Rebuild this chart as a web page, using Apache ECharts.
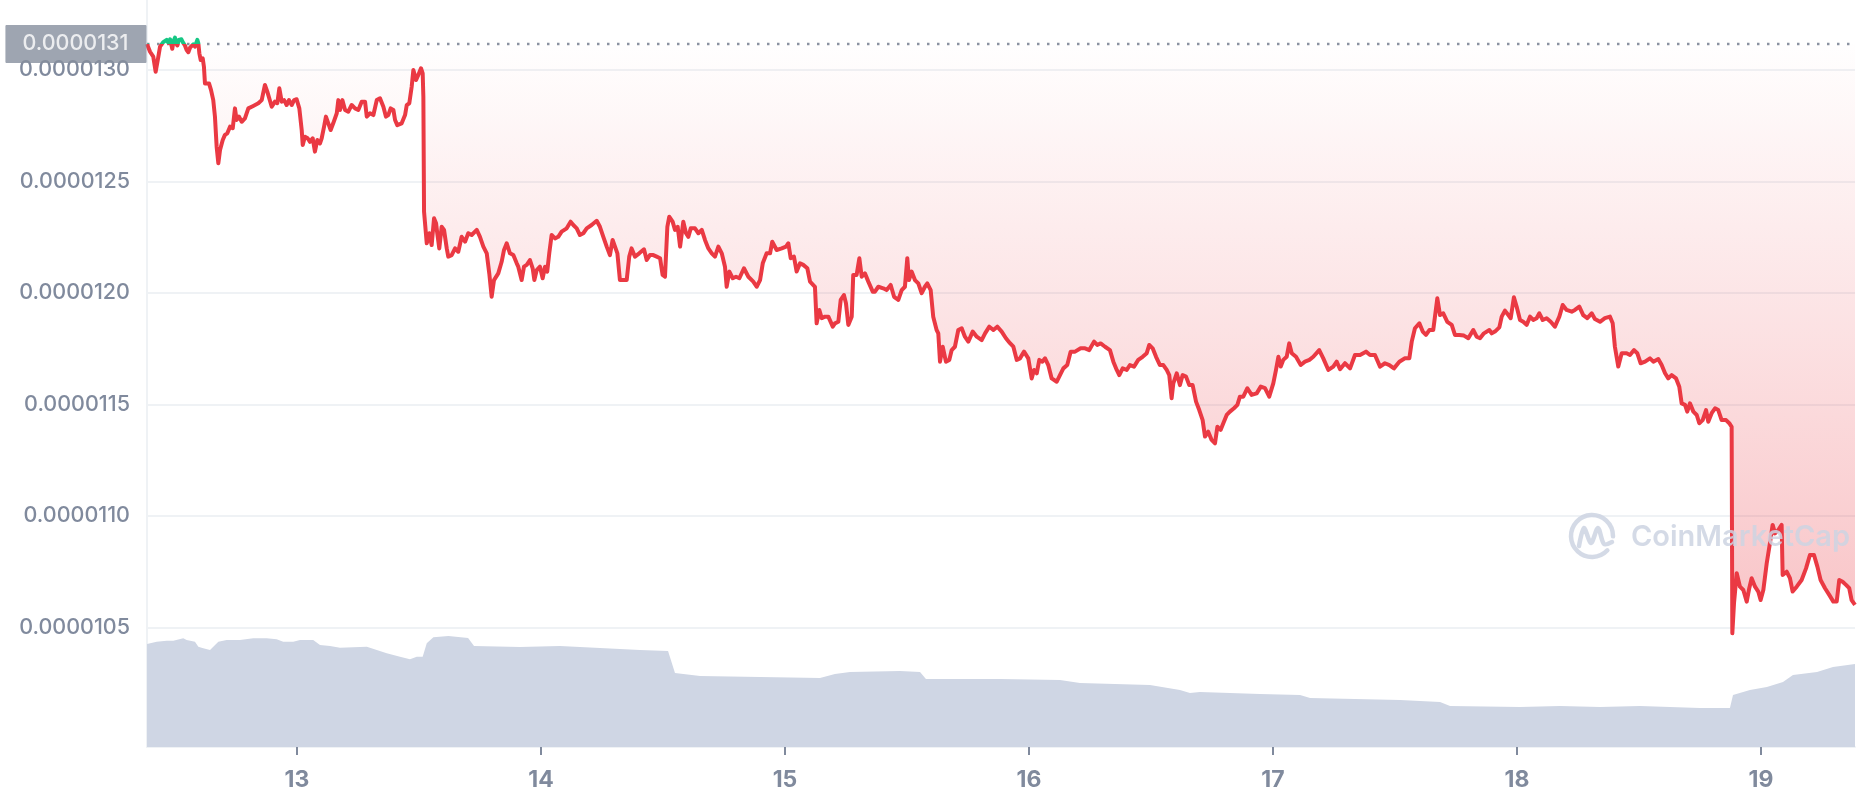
<!DOCTYPE html>
<html>
<head>
<meta charset="utf-8">
<script src="https://cdn.jsdelivr.net/npm/echarts@6/dist/echarts.min.js"></script>
<style>
html,body{margin:0;padding:0;background:#ffffff;}
#chart{width:1858px;height:800px;}
</style>
</head>
<body>
<div id="chart"></div>
<script>
// ---- data ----
// time origin of the 7-day window (local time), offsets below are in minutes
const START = new Date(2022, 0, 12, 9, 15).getTime();
const MINUTE = 60000;
const RANGE_MINUTES = 7 * 1440;
// x-axis tick labels (day of month)
const dayTicks = [13, 14, 15, 16, 17, 18, 19];
// price values are given as price x 10^7 (131.17 => 0.000013117)
const PRICE_SCALE = 1e-7;
const openPriceE7 = 131.17;
// [minutes from START, price x 1e7]
const priceSeries = [
[0,131.17],[18,130.82],[37,130.60],[51,129.92],[67,130.60],[77,131.05],[96,131.25],[106,131.30],[116,131.35],[126,131.22],
[136,131.38],[149,130.95],[157,131.30],[165,131.45],[172,131.20],[179,131.10],[187,131.35],[195,131.30],[203,131.38],[211,131.25],
[224,131.10],[234,130.90],[244,130.80],[254,131.00],[263,130.95],[273,131.15],[283,131.05],[297,131.35],[303,131.20],
[309,130.75],[317,130.45],[329,130.52],[336,130.15],[342,129.40],[352,129.33],[366,129.40],[378,129.10],[391,128.65],[401,127.91],
[411,126.56],[421,125.82],[431,126.41],[447,126.86],[460,127.09],[474,127.16],[490,127.46],[506,127.39],[519,128.28],[529,127.76],
[543,127.91],[559,127.68],[578,127.83],[598,128.28],[627,128.39],[657,128.51],[677,128.65],[696,129.33],[710,129.03],[736,128.35],
[755,128.58],[769,128.51],[781,129.18],[795,128.58],[809,128.65],[824,128.43],[838,128.65],[854,128.43],[868,128.65],[883,128.69],
[899,128.28],[913,127.31],[919,126.64],[932,127.01],[948,126.94],[962,126.78],[978,126.94],[991,126.34],[1005,126.86],[1021,126.71],
[1031,126.94],[1045,127.46],[1056,127.91],[1070,127.61],[1084,127.31],[1099,127.61],[1120,128.06],[1129,128.65],[1139,128.21],[1153,128.65],
[1169,128.21],[1188,128.13],[1208,128.43],[1228,128.28],[1247,128.21],[1267,128.58],[1287,128.58],[1297,127.91],[1316,128.06],[1336,127.98],
[1356,128.65],[1375,128.73],[1395,128.35],[1410,127.91],[1424,127.98],[1438,128.28],[1454,128.21],[1464,127.76],[1477,127.53],[1503,127.61],
[1523,127.98],[1533,128.43],[1548,128.51],[1562,129.25],[1572,130.00],[1588,129.55],[1601,129.78],[1617,130.08],[1627,129.85],[1631,128.80],
[1635,123.65],[1651,122.23],[1666,122.68],[1680,122.15],[1694,123.35],[1706,123.13],[1713,122.68],[1725,122.00],[1739,122.97],[1753,122.83],
[1769,122.00],[1778,121.63],[1798,121.70],[1818,122.00],[1837,121.85],[1857,122.52],[1877,122.30],[1896,122.68],[1916,122.60],[1946,122.83],
[1965,122.52],[1985,122.08],[2005,121.78],[2020,120.88],[2034,119.83],[2048,120.58],[2073,120.88],[2093,121.40],[2107,121.93],[2123,122.23],
[2142,121.78],[2162,121.70],[2182,121.33],[2191,121.18],[2211,120.58],[2225,121.18],[2241,121.26],[2260,121.48],[2276,121.11],[2286,120.58],
[2300,121.03],[2319,121.18],[2335,120.66],[2349,121.18],[2362,120.96],[2374,121.78],[2388,122.60],[2408,122.45],[2427,122.52],[2447,122.75],
[2477,122.90],[2500,123.20],[2516,123.05],[2536,122.90],[2555,122.60],[2575,122.68],[2595,122.90],[2624,123.05],[2654,123.24],[2673,122.97],
[2693,122.52],[2713,122.08],[2732,121.70],[2748,122.38],[2762,122.08],[2776,121.78],[2791,120.58],[2811,120.58],[2831,120.58],[2846,121.63],
[2860,122.00],[2880,121.63],[2905,121.78],[2933,121.96],[2949,121.48],[2968,121.70],[2988,121.70],[3008,121.63],[3028,121.56],[3043,120.81],
[3057,120.73],[3071,122.97],[3082,123.42],[3102,123.20],[3116,122.83],[3132,122.97],[3146,122.08],[3165,123.20],[3181,122.68],[3195,122.52],
[3209,122.90],[3234,122.90],[3254,122.68],[3274,122.83],[3293,122.38],[3313,122.00],[3333,121.78],[3352,121.63],[3372,122.08],[3392,121.78],
[3411,121.18],[3421,120.28],[3437,120.96],[3457,120.66],[3476,120.73],[3496,120.66],[3523,121.11],[3549,120.73],[3578,120.51],[3598,120.28],
[3618,120.58],[3634,121.33],[3657,121.78],[3677,121.78],[3690,122.30],[3716,121.93],[3746,122.00],[3771,122.08],[3785,122.23],[3799,121.56],
[3818,121.63],[3834,120.96],[3854,121.33],[3873,121.26],[3897,121.11],[3913,120.51],[3942,120.28],[3952,118.64],[3968,119.24],[3982,118.87],
[4001,118.94],[4021,118.94],[4047,118.49],[4060,118.64],[4080,118.71],[4094,119.69],[4113,119.91],[4125,119.54],[4139,118.57],[4159,118.94],
[4168,120.81],[4188,120.81],[4204,121.56],[4218,120.73],[4237,120.88],[4257,120.51],[4283,120.06],[4296,120.06],[4316,120.28],[4345,120.21],
[4365,120.13],[4389,120.36],[4409,119.83],[4434,119.69],[4454,120.13],[4473,120.28],[4487,121.56],[4497,120.58],[4513,120.96],[4532,120.58],
[4552,120.43],[4572,119.99],[4591,120.28],[4605,120.43],[4625,120.13],[4640,118.94],[4660,118.34],[4670,118.19],[4680,116.92],[4696,117.59],
[4715,116.92],[4735,117.00],[4749,117.44],[4768,117.59],[4788,118.34],[4808,118.42],[4827,118.04],[4847,117.82],[4873,118.27],[4897,118.04],
[4926,117.89],[4946,118.19],[4971,118.49],[4995,118.34],[5018,118.49],[5044,118.27],[5069,117.97],[5093,117.75],[5113,117.59],[5133,117.00],
[5152,117.07],[5176,117.37],[5201,117.07],[5221,116.17],[5235,116.55],[5251,116.40],[5266,117.00],[5284,116.92],[5300,117.07],[5319,116.77],
[5339,116.17],[5369,116.02],[5388,116.32],[5408,116.62],[5431,116.77],[5451,117.37],[5477,117.37],[5510,117.52],[5536,117.52],[5561,117.44],
[5589,117.82],[5608,117.67],[5628,117.74],[5654,117.59],[5683,117.44],[5703,116.92],[5723,116.55],[5738,116.32],[5758,116.62],[5782,116.55],
[5801,116.77],[5825,116.70],[5850,117.00],[5876,117.14],[5900,117.30],[5915,117.67],[5935,117.52],[5955,117.14],[5978,116.77],[5998,116.77],
[6018,116.55],[6033,116.32],[6047,115.28],[6057,115.95],[6077,116.40],[6096,115.87],[6112,116.32],[6132,116.25],[6151,115.87],[6171,115.87],
[6191,115.13],[6210,114.75],[6230,114.30],[6244,113.56],[6263,113.78],[6283,113.41],[6303,113.26],[6317,114.00],[6336,113.86],[6352,114.16],
[6372,114.53],[6391,114.68],[6415,114.83],[6435,114.98],[6450,115.35],[6470,115.35],[6494,115.73],[6519,115.43],[6549,115.50],[6573,115.80],
[6598,115.73],[6623,115.35],[6647,115.95],[6663,116.55],[6677,117.14],[6691,116.70],[6706,117.00],[6726,117.14],[6741,117.74],[6756,117.30],
[6781,117.14],[6809,116.77],[6834,116.92],[6860,117.00],[6883,117.14],[6918,117.44],[6942,117.07],[6972,116.55],[7001,116.70],[7021,116.92],
[7041,116.58],[7070,116.85],[7100,116.62],[7129,117.22],[7159,117.22],[7194,117.37],[7218,117.22],[7247,117.22],[7277,116.70],[7306,116.85],
[7332,116.77],[7359,116.62],[7391,116.92],[7424,117.07],[7450,117.07],[7464,117.82],[7483,118.42],[7509,118.64],[7529,118.27],[7548,118.12],
[7568,118.34],[7591,118.34],[7601,118.94],[7615,119.76],[7631,119.01],[7650,119.09],[7674,118.71],[7700,118.57],[7719,118.12],[7745,118.12],
[7772,118.09],[7798,117.97],[7827,118.34],[7847,118.04],[7867,117.97],[7890,118.19],[7922,118.34],[7936,118.19],[7955,118.27],[7981,118.46],
[7995,118.94],[8014,119.21],[8034,119.01],[8048,118.87],[8067,119.81],[8083,119.39],[8103,118.79],[8122,118.71],[8142,118.57],[8162,118.94],
[8181,118.79],[8201,118.87],[8217,119.09],[8237,118.79],[8260,118.87],[8284,118.71],[8309,118.49],[8335,118.94],[8355,119.46],[8378,119.24],
[8408,119.16],[8427,119.24],[8453,119.39],[8476,119.01],[8500,118.87],[8526,119.09],[8545,118.83],[8575,118.71],[8604,118.87],[8634,118.94],
[8650,118.64],[8663,117.59],[8683,116.70],[8703,117.30],[8732,117.30],[8752,117.22],[8776,117.44],[8795,117.30],[8815,116.85],[8841,116.92],
[8870,117.07],[8890,116.92],[8919,117.04],[8939,116.77],[8959,116.40],[8978,116.17],[8998,116.32],[9024,116.17],[9043,115.80],[9057,115.05],
[9077,114.98],[9090,114.68],[9106,115.05],[9126,114.68],[9146,114.53],[9161,114.16],[9181,114.30],[9201,114.75],[9214,114.23],[9234,114.61],
[9254,114.83],[9273,114.75],[9293,114.30],[9319,114.30],[9338,114.16],[9352,114.00],[9356,104.74],[9366,106.09],[9382,107.43],[9401,106.83],
[9421,106.68],[9441,106.16],[9456,106.76],[9470,107.21],[9490,106.83],[9509,106.61],[9523,106.23],[9539,106.68],[9559,107.88],[9578,108.78],
[9594,109.60],[9608,109.22],[9627,109.37],[9647,109.60],[9653,107.35],[9677,107.50],[9696,107.21],[9712,106.61],[9736,106.83],[9765,107.13],
[9791,107.65],[9814,108.25],[9838,108.25],[9858,107.73],[9877,107.13],[9903,106.76],[9928,106.46],[9952,106.16],[9972,106.16],[9987,107.13],
[10007,107.05],[10027,106.91],[10046,106.76],[10060,106.23],[10080,106.01]
];
// [minutes from START, 24h volume (millions)]
const volumeSeries = [
[0,96.5],[57,98.7],[116,99.6],[155,99.6],[214,101.9],[234,100.3],[283,98.7],[303,94.0],[332,92.5],[372,90.9],
[421,98.7],[470,100.3],[549,100.3],[627,101.9],[706,101.9],[765,100.9],[804,98.7],[863,98.7],[903,100.3],[981,100.3],
[1021,95.6],[1080,94.6],[1139,93.1],[1218,93.4],[1297,94.0],[1356,90.9],[1415,87.8],[1493,84.6],[1552,82.2],[1592,84.6],
[1627,84.6],[1651,97.2],[1690,102.8],[1779,104.0],[1895,102.1],[1930,94.6],[2201,93.7],[2437,94.6],[2673,92.8],[2909,90.9],
[3075,90.0],[3116,69.3],[3264,66.5],[3618,65.6],[3972,64.7],[4060,68.4],[4149,70.3],[4444,71.2],[4562,70.3],[4597,63.7],
[5034,63.7],[5388,62.8],[5506,60.0],[5919,58.1],[6096,53.4],[6155,50.6],[6214,51.5],[6568,49.7],[6805,48.7],[6864,45.9],
[7395,44.0],[7631,42.2],[7690,38.4],[8103,37.5],[8339,38.4],[8575,37.5],[8811,38.4],[9165,36.5],[9342,36.5],[9360,48.7],
[9460,53.4],[9560,56.2],[9655,60.9],[9714,67.5],[9856,70.3],[9950,75.0],[10080,77.8]
];
const VOLUME_AXIS_MAX = 700;

// ---- chart ----
const FONT = 'Inter, "Noto Sans", sans-serif';
const RED = '#ea3943', GREEN = '#16c784';
const openPrice = openPriceE7 * PRICE_SCALE;
const END = START + RANGE_MINUTES * MINUTE;
const dayValues = dayTicks.map(d => new Date(2022, 0, d).getTime());
const priceData = priceSeries.map(p => [START + p[0] * MINUTE, p[1] * PRICE_SCALE]);
const volumeData = volumeSeries.map(v => [START + v[0] * MINUTE, v[1]]);
const priceMin = 99.64 * PRICE_SCALE;
const priceMax = 133.14 * PRICE_SCALE;

const chart = echarts.init(document.getElementById('chart'), null, {renderer: 'canvas'});
const wm = 'rgba(205,212,226,0.85)';
chart.setOption({
  animation: false,
  backgroundColor: '#ffffff',
  grid: {left: 147, right: 3, top: 0, bottom: 53, containLabel: false},
  xAxis: {
    type: 'value',
    min: START,
    max: END,
    axisLine: {show: true, onZero: false, lineStyle: {color: '#eff2f5', width: 2}},
    axisTick: {show: true, customValues: dayValues, length: 8, lineStyle: {color: '#808a9d', width: 2}},
    axisLabel: {
      customValues: dayValues,
      formatter: v => String(new Date(v).getDate()),
      color: '#808a9d', fontSize: 23, fontWeight: 700, fontFamily: FONT, margin: 22
    },
    splitLine: {show: false}
  },
  yAxis: [{
    type: 'value',
    min: priceMin,
    max: priceMax,
    splitNumber: 5,
    axisLine: {show: true, lineStyle: {color: '#eff2f5', width: 2}},
    axisTick: {show: false},
    axisLabel: {
      showMinLabel: false, showMaxLabel: false,
      formatter: v => (v < 104 * PRICE_SCALE || v > 130.05 * PRICE_SCALE) ? '' : v.toFixed(7),
      color: '#808a9d', fontSize: 21.5, fontWeight: 500, fontFamily: FONT, margin: 17
    },
    splitLine: {show: true, showMinLine: false, showMaxLine: false, lineStyle: {color: '#eff2f5', width: 2}}
  }, {
    type: 'value', min: 0, max: VOLUME_AXIS_MAX, show: false,
    splitLine: {show: false}
  }],
  series: [{
    id: 'open', name: 'Open price', type: 'line', yAxisIndex: 0,
    data: [[START, openPrice], [END, openPrice]],
    showSymbol: false, symbol: 'none', silent: true, z: 1,
    lineStyle: {color: '#8a92a1', type: [2.5, 7.5], width: 2.5}
  }, {
    id: 'openLabel', name: 'Open label', type: 'scatter', yAxisIndex: 0,
    data: [[START, openPrice]], symbolSize: 1, clip: false, silent: true, z: 5,
    itemStyle: {color: 'rgba(0,0,0,0)'},
    label: {
      show: true, position: 'left', distance: 0,
      formatter: () => openPrice.toFixed(7),
      color: '#ffffff', backgroundColor: '#868e9e', fontSize: 21.5, fontWeight: 500, fontFamily: FONT,
      lineHeight: 20, padding: [9, 18, 9, 17], borderRadius: 1
    }
  }, {
    id: 'price', name: 'Price', type: 'line', data: priceData, yAxisIndex: 0,
    showSymbol: false, symbol: 'none', z: 3,
    lineStyle: {width: 4, color: RED, join: 'round'},
    areaStyle: {
      origin: openPrice, opacity: 1,
      color: new echarts.graphic.LinearGradient(0, 0, 0, 1, [
        {offset: 0, color: 'rgba(234,57,67,0.0)'},
        {offset: 1, color: 'rgba(234,57,67,0.30)'}
      ])
    }
  }, {
    id: 'volume', name: 'Volume', type: 'line', data: volumeData, yAxisIndex: 1,
    showSymbol: false, symbol: 'none', z: 2, silent: true,
    lineStyle: {width: 0, color: '#cfd6e4'},
    itemStyle: {color: '#cfd6e4'},
    areaStyle: {color: '#cfd6e4', opacity: 1}
  }],
  graphic: [
    {type: 'arc', z: 100, silent: true,
     shape: {cx: 1592, cy: 536, r: 21, startAngle: 0.75, endAngle: 0.75 + 5.55},
     style: {stroke: wm, lineWidth: 4.5, fill: 'none', lineCap: 'round'}},
    {type: 'polyline', z: 100, silent: true,
     shape: {points: [[1579, 546], [1584, 528], [1591, 543], [1598, 528], [1604, 544], [1612, 542]], smooth: 0.3},
     style: {stroke: wm, lineWidth: 4.5, fill: 'none', lineCap: 'round', lineJoin: 'round'}},
    {type: 'text', z: 100, silent: true, x: 1631, y: 537,
     style: {text: 'CoinMarketCap', font: '600 29px Inter, sans-serif', fill: wm,
             align: 'left', verticalAlign: 'middle', textAlign: 'left', textVerticalAlign: 'middle'}}
  ]
});

// colour the price line green above the opening price and red below it,
// placing the colour change at the opening price on the chart's own y scale
const yBase = chart.convertToPixel({yAxisIndex: 0}, openPrice);
const H = chart.getHeight();
const t = Math.min(1, Math.max(0, yBase / H));
chart.setOption({
  series: [{
    id: 'price',
    lineStyle: {
      color: new echarts.graphic.LinearGradient(0, 0, 0, H, [
        {offset: 0, color: GREEN}, {offset: t, color: GREEN},
        {offset: t, color: RED}, {offset: 1, color: RED}
      ], true)
    }
  }]
});
</script>
</body>
</html>
